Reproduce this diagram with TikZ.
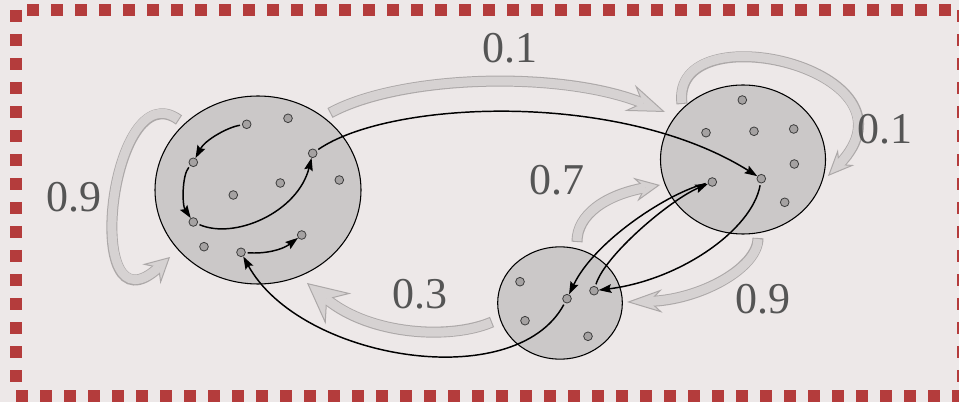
\documentclass[tikz,border=0pt]{standalone}
\usepackage{fontspec}
\newfontfamily\labelfont{Liberation Serif}
\usetikzlibrary{arrows.meta,shapes.geometric}

\definecolor{bgpink}{RGB}{237,232,232}
\definecolor{framered}{RGB}{180,60,60}
\definecolor{blobgrey}{RGB}{203,200,200}
\definecolor{dotgrey}{RGB}{165,162,162}
\definecolor{dotedge}{RGB}{60,60,60}
\definecolor{bandline}{RGB}{172,168,168}
\definecolor{bandgrey}{RGB}{214,210,210}
\definecolor{labelgrey}{RGB}{85,85,85}

\tikzset{every picture/.style={line width=0.75pt}}
\tikzset{
  frame/.style={draw=framered, line width=9pt, dash pattern=on 9pt off 9pt},
  blob/.style={ellipse, draw=black, line width=0.8pt, fill=blobgrey, inner sep=0pt},
  spot/.style={circle, draw=dotedge, line width=0.6pt, fill=dotgrey, minimum size=6.5pt, inner sep=0pt},
  hop/.style={draw=black, line width=1.1pt, -{Stealth[length=9.5pt,width=6.5pt,inset=1.5pt]}, shorten <=1.5pt},
  bandedge/.style n args={3}{draw=bandline, line width=8.25pt,
    -{Stealth[length=#1, width=#2, inset=#3, fill=bandgrey, line width=0.75pt]}},
  bandface/.style={draw=bandgrey, line width=6.75pt, shorten >=#1, shorten <=0.8pt},
  num/.style={font=\labelfont\fontsize{33}{33}\selectfont, text=labelgrey, inner sep=0pt}
}

\begin{document}
\begin{tikzpicture}[x=0.75pt,y=0.75pt,yscale=-1,xscale=1]
\useasboundingbox (0,0) rectangle (959,402);
\fill[bgpink] (0,0) rectangle (959,402);

%Dashed frame
\draw[frame] (27,10) -- (959,10);
\draw[frame] (16,10) -- (16,390);
\draw[frame] (16,396) -- (959,396);
\draw[frame] (963,10) -- (963,390);

%Band ends
\coordinate (g1s) at (330,113);
\coordinate (g1e) at (665,112);
\coordinate (g2s) at (682,104);
\coordinate (g2e) at (828,176);
\coordinate (g3s) at (179,120);
\coordinate (g3e) at (170,257);
\coordinate (g4s) at (758,238);
\coordinate (g4e) at (627,302);
\coordinate (g5s) at (492,322);
\coordinate (g5e) at (307,283);
\coordinate (g6s) at (577,242);
\coordinate (g6e) at (660,185);

%Wide Arrows
\draw[bandedge={28.5pt}{21pt}{10pt}] (g1s) .. controls (400,75) and (560,70) .. (g1e);
\draw[bandface=17.5pt] (g1s) .. controls (400,75) and (560,70) .. (g1e);
\draw[bandedge={19.5pt}{17pt}{7pt}] (g2s) .. controls (670,10) and (930,70) .. (g2e);
\draw[bandface=11.5pt] (g2s) .. controls (670,10) and (930,70) .. (g2e);
\draw[bandedge={19pt}{20pt}{7pt}] (g3s) .. controls (110,70) and (80,340) .. (g3e);
\draw[bandface=11pt] (g3s) .. controls (110,70) and (80,340) .. (g3e);
\draw[bandedge={26.5pt}{17.5pt}{9pt}] (g4s) .. controls (758,268) and (700,300) .. (g4e);
\draw[bandface=16.5pt] (g4s) .. controls (758,268) and (700,300) .. (g4e);
\draw[bandedge={30.5pt}{30pt}{11pt}] (g5s) .. controls (450,340) and (370,335) .. (g5e);
\draw[bandface=18.5pt] (g5s) .. controls (450,340) and (370,335) .. (g5e);
\draw[bandedge={19pt}{18pt}{7pt}] (g6s) .. controls (577,215) and (605,195) .. (g6e);
\draw[bandface=11pt] (g6s) .. controls (577,215) and (605,195) .. (g6e);

%Ellipses
\node[blob, minimum width=154.5pt, minimum height=141pt] (setA) at (258,190) {};
\node[blob, minimum width=123.75pt, minimum height=111.75pt] (setB) at (743,159.5) {};
\node[blob, minimum width=93.5pt, minimum height=84.2pt] (setC) at (560,303) {};

%Points
\node[spot] (a1) at (246.7,124.3) {};
\node[spot] (a2) at (288,118.3) {};
\node[spot] (a3) at (193.3,162.3) {};
\node[spot] (a4) at (312.7,153.3) {};
\node[spot] (a5) at (280.3,183) {};
\node[spot] (a6) at (233.3,195) {};
\node[spot] (a7) at (339.3,180) {};
\node[spot] (a8) at (193.3,222) {};
\node[spot] (a9) at (301.7,235) {};
\node[spot] (a10) at (204,246.7) {};
\node[spot] (a11) at (241,252.3) {};
\node[spot] (b1) at (742.3,100) {};
\node[spot] (b2) at (706,132.7) {};
\node[spot] (b3) at (754,131.3) {};
\node[spot] (b4) at (793.7,129) {};
\node[spot] (b5) at (794.3,164) {};
\node[spot] (b6) at (712.3,182) {};
\node[spot] (b7) at (761.3,178.7) {};
\node[spot] (b8) at (784.7,202.3) {};
\node[spot] (c1) at (520,281.7) {};
\node[spot] (c2) at (525,320.7) {};
\node[spot] (c3) at (567,298.7) {};
\node[spot] (c4) at (594,290.7) {};
\node[spot] (c5) at (588,336.3) {};

%Curve Lines
\draw[hop] (a1) .. controls (228,127) and (205,140) .. (a3);
\draw[hop] (a3) .. controls (182,175) and (182,205) .. (a8);
\draw[hop] (a8) .. controls (235,240) and (298,212) .. (a4);
\draw[hop] (a4) .. controls (390,100) and (620,90) .. (b7);
\draw[hop] (a11) .. controls (265,254) and (282,250) .. (a9);
\draw[hop] (c3) .. controls (515,395) and (300,360) .. (a11);
\draw[hop] (b7) .. controls (752,230) and (680,280) .. (c4);
\draw[hop] (b6) .. controls (670,192) and (595,240) .. (c3);
\draw[hop] (c4) .. controls (605,255) and (670,200) .. (b6);

% Text Node
\node[num] (p1) at (510,48) {0.1};
% Text Node
\node[num] (p2) at (885,129) {0.1};
% Text Node
\node[num] (p3) at (74,197) {0.9};
% Text Node
\node[num] (p4) at (557,180) {0.7};
% Text Node
\node[num] (p5) at (420,294) {0.3};
% Text Node
\node[num] (p6) at (763,299) {0.9};

\end{tikzpicture}
\end{document}
